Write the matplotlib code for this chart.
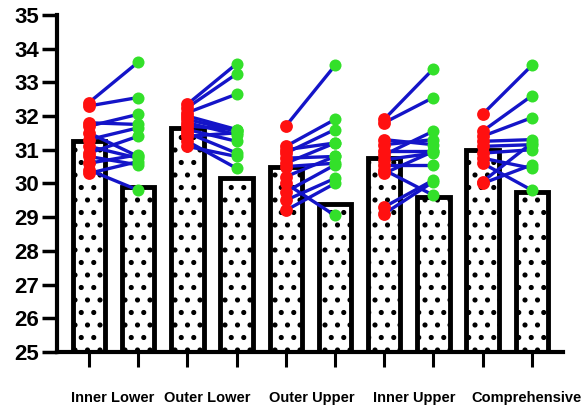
import matplotlib
matplotlib.use("Agg")
import matplotlib.pyplot as plt
import matplotlib.hatch as mhatch
import numpy as np

plt.rcParams['font.family'] = ['Liberation Sans', 'DejaVu Sans']
plt.rcParams['hatch.linewidth'] = 1.5


class MidDots(mhatch.Circles):
    size = 0.12
    filled = True

    def __init__(self, hatch, density):
        self.num_rows = hatch.count('.') * 8
        super().__init__(hatch, density)


mhatch._hatch_types = [MidDots if t is mhatch.SmallFilledCircles else t
                       for t in mhatch._hatch_types]

groups = ["Inner Lower", "Outer Lower", "Outer Upper", "Inner Upper", "Comprehensive"]

bar_pre = [31.25, 31.65, 30.5, 30.75, 31.0]
bar_post = [29.9, 30.15, 29.4, 29.6, 29.75]

pre_points = [
    [32.4, 32.3, 31.8, 31.7, 31.5, 31.3, 31.1, 30.9, 30.8, 30.6, 30.4, 30.3],
    [32.35, 32.25, 32.1, 32.0, 31.9, 31.8, 31.7, 31.6, 31.5, 31.4, 31.25, 31.1],
    [31.7, 31.1, 31.0, 30.9, 30.75, 30.6, 30.5, 30.2, 30.0, 29.75, 29.5, 29.2],
    [31.9, 31.8, 31.3, 31.15, 30.95, 30.85, 30.7, 30.55, 30.4, 30.3, 29.3, 29.1],
    [32.05, 31.55, 31.4, 31.25, 31.1, 30.9, 30.75, 30.6, 30.05, 30.0],
]
post_points = [
    [33.6, 32.55, 31.75, 32.05, 30.8, 31.65, 30.75, 31.4, 30.55, 30.85, 29.8, 30.65],
    [33.55, 33.25, 32.65, 31.6, 31.55, 31.45, 31.6, 31.25, 30.9, 31.5, 30.45, 30.8],
    [33.5, 31.9, 31.2, 31.6, 30.8, 31.2, 30.6, 30.8, 29.05, 30.55, 30.15, 30.0],
    [33.4, 32.55, 31.15, 31.3, 30.95, 31.55, 30.9, 30.55, 29.65, 30.95, 30.1, 30.05],
    [33.5, 32.6, 31.95, 31.3, 31.15, 31.0, 30.45, 29.8, 31.2, 30.55],
]

yticks = list(range(25, 36))

fig = plt.figure(figsize=(5.84, 4.15), dpi=100)
ax = fig.add_axes([0.0976, 0.152, 0.866, 0.812])

n = len(groups)
pre_x = np.arange(n) * 2
post_x = pre_x + 1
bottom = 25

ax.bar(pre_x, np.array(bar_pre) - bottom, bottom=bottom, width=0.66,
       color='white', edgecolor='black', linewidth=3.5, hatch='.', zorder=1)
ax.bar(post_x, np.array(bar_post) - bottom, bottom=bottom, width=0.66,
       color='white', edgecolor='black', linewidth=3.5, hatch='.', zorder=1)

for i in range(n):
    for a, b in zip(pre_points[i], post_points[i]):
        ax.plot([pre_x[i], post_x[i]], [a, b], color='#1414c8', lw=2.4, zorder=2,
                solid_capstyle='round')
    ax.scatter(np.full(len(pre_points[i]), pre_x[i]), pre_points[i], s=85,
               color='#ff1010', zorder=3, linewidths=0)
    ax.scatter(np.full(len(post_points[i]), post_x[i]), post_points[i], s=75,
               color='#33e02a', zorder=4, linewidths=0)

ax.set_ylim(25, 35)
ax.set_xlim(-0.65, 9.63)
ax.set_yticks(yticks)
ax.set_yticklabels([str(t) for t in yticks], fontsize=16, fontweight='bold')

ax.set_xticks(np.concatenate([pre_x, post_x]))
ax.set_xticklabels([])
label_pos = [0.49, 2.41, 4.52, 6.61, 8.9]
ax.set_xticks(label_pos, minor=True)
ax.set_xticklabels(groups, minor=True, fontsize=10.5, fontweight='bold')

ax.tick_params(axis='y', which='major', length=11, width=2.5, pad=2, direction='out')
ax.tick_params(axis='x', which='major', length=11, width=2.2, direction='out')
ax.tick_params(axis='x', which='minor', length=0, pad=28)

for s in ['top', 'right']:
    ax.spines[s].set_visible(False)
for s in ['left', 'bottom']:
    ax.spines[s].set_linewidth(3)

fig.savefig('out.png', dpi=100)
